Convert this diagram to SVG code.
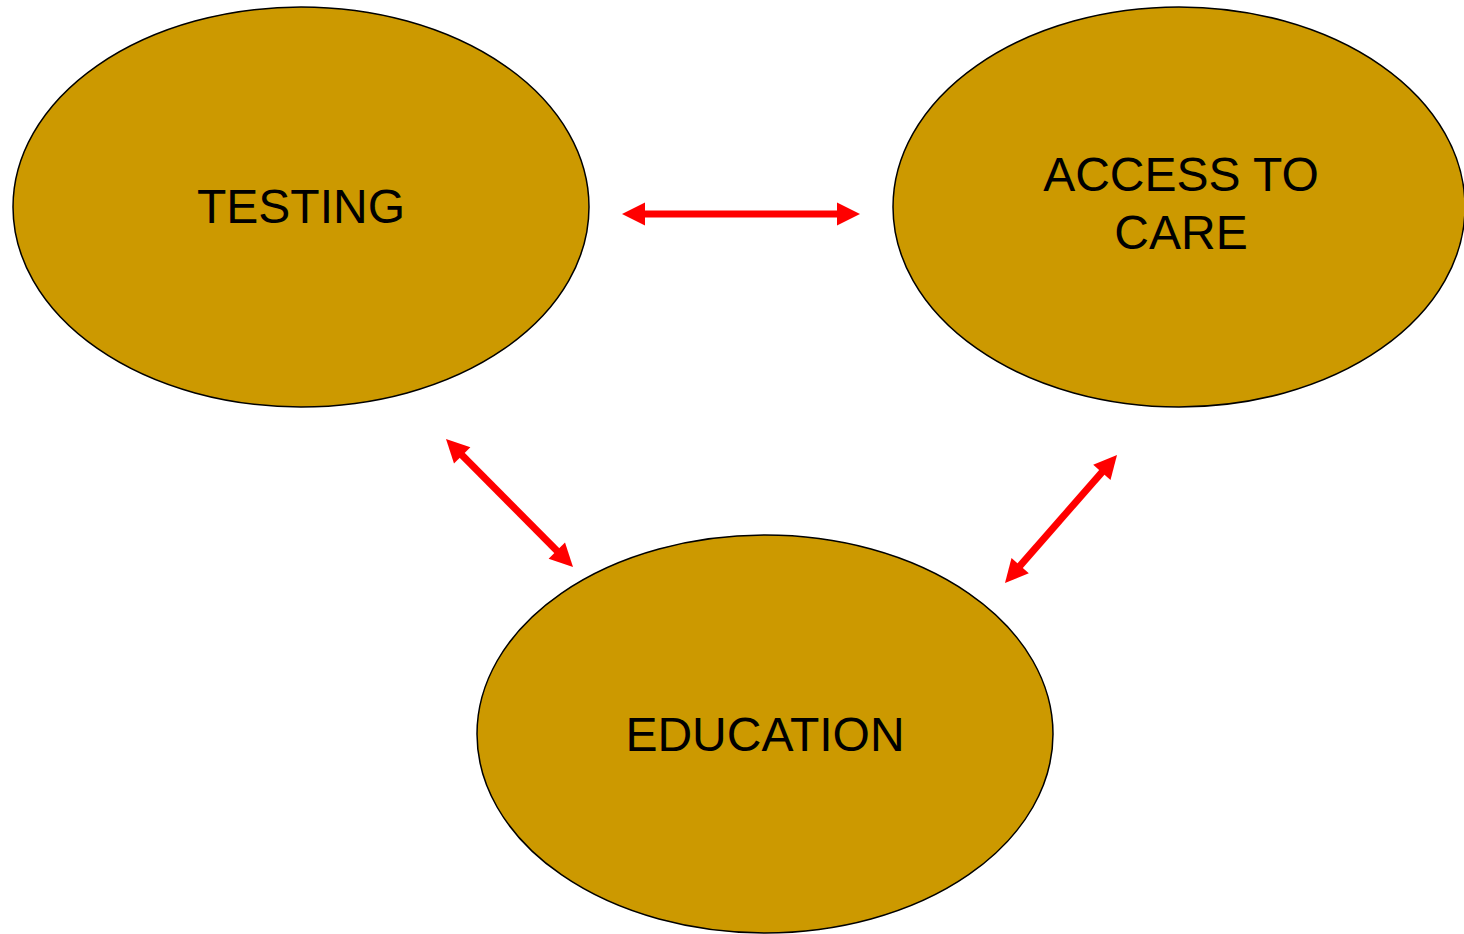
<svg xmlns="http://www.w3.org/2000/svg" width="1464" height="934" viewBox="0 0 1464 934">
<style>
.node ellipse{fill:#cc9900;stroke:#000;stroke-width:1.5}
.node text{font-family:"Liberation Sans",Arial,sans-serif;font-size:48px;fill:#000;text-anchor:middle}
.conn line{stroke:#ff0000;stroke-width:7}
.conn polygon{fill:#ff0000}
</style>
<rect width="1464" height="934" fill="#fff"/>
<g id="testing" class="node">
<ellipse cx="301" cy="207" rx="288" ry="200"/>
<text x="301" y="223">TESTING</text>
</g>
<g id="access" class="node">
<ellipse cx="1179" cy="207" rx="286" ry="200"/>
<text x="1181" y="191">ACCESS TO</text>
<text x="1181" y="249">CARE</text>
</g>
<g id="education" class="node">
<ellipse cx="765" cy="734" rx="288" ry="199"/>
<text x="765" y="751">EDUCATION</text>
</g>
<g id="connectors" class="conn">
<line x1="640" y1="214" x2="842" y2="214"/>
<polygon points="622,214 645,202.5 645,225.5"/>
<polygon points="860,214 837,202.5 837,225.5"/>
<line x1="460.1" y1="453.2" x2="558.9" y2="552.8"/>
<polygon points="446,439 454,463.4 470.4,447.2"/>
<polygon points="573,567 548.6,558.8 565,542.6"/>
<line x1="1103.8" y1="470.1" x2="1018.2" y2="567.9"/>
<polygon points="1117,455 1110.5,479.9 1093.2,464.7"/>
<polygon points="1005,583 1028.8,573.3 1011.5,558.1"/>
</g>
</svg>
